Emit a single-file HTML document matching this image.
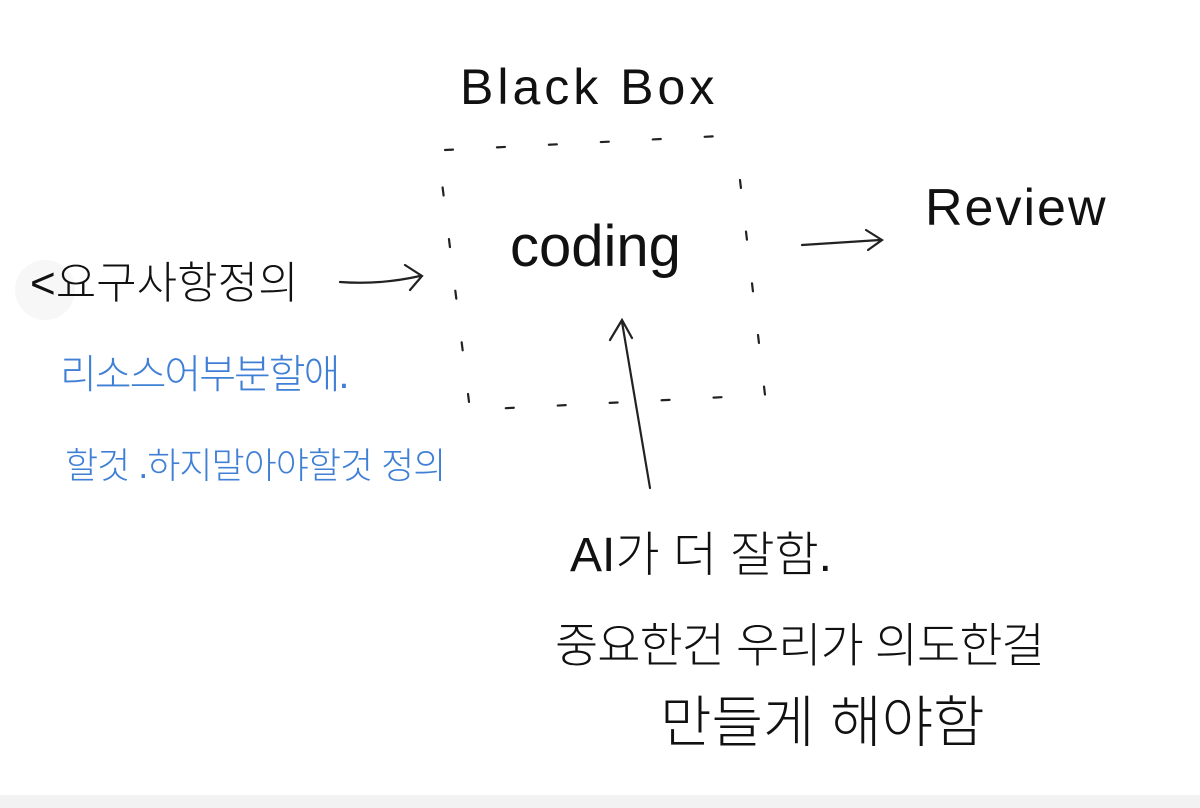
<!DOCTYPE html>
<html><head><meta charset="utf-8"><style>
html,body{margin:0;padding:0;background:#fff;}
body{width:1200px;height:808px;position:relative;overflow:hidden;font-family:"Liberation Sans","Noto Sans CJK KR",sans-serif;}
.t{position:absolute;white-space:nowrap;color:#111;font-weight:300;line-height:1;}
.b{color:#3f7fd6;}
.bar{position:absolute;left:0;top:795px;width:1200px;height:13px;background:#f2f2f2;}
</style></head><body>
<svg width="1200" height="808" style="position:absolute;left:0;top:0">
<g fill="none" stroke="#222" stroke-width="2.2" stroke-linecap="round">
<path d="M445 150 L740 135 L742 140 M740 180 L765 395 L470 410 L438 150" stroke-dasharray="8 44"/>
<path d="M340 282 Q380 285 420 276 M405 265 L422 276 L410 290"/>
<path d="M802 245 L880 240 M866 230 L882 240 L868 250"/>
<path d="M650 488 Q635 400 622 322 M610 340 L622 320 L632 338"/>
</g>
<circle cx="45" cy="290" r="30" fill="#f3f3f3" opacity="0.7"/>
</svg>
<div class="t" style="left:460px;top:62px;font-size:50px;letter-spacing:4px;">Black Box</div>
<div class="t" style="left:510px;top:218px;font-size:58px;">coding</div>
<div class="t" style="left:925px;top:182px;font-size:52px;letter-spacing:2px;">Review</div>
<div class="t" style="left:30px;top:262px;font-size:44px;">&lt;요구사항정의</div>
<div class="t b" style="left:60px;top:355px;font-size:40px;letter-spacing:-2px;">리소스어부분할애.</div>
<div class="t b" style="left:65px;top:448px;font-size:36px;letter-spacing:-1px;">할것 .하지말아야할것 정의</div>
<div class="t" style="left:570px;top:532px;font-size:48px;">AI가 더 잘함.</div>
<div class="t" style="left:555px;top:622px;font-size:47px;letter-spacing:-1px;">중요한건 우리가 의도한걸</div>
<div class="t" style="left:660px;top:695px;font-size:56px;">만들게 해야함</div>
<div class="bar"></div>
</body></html>
